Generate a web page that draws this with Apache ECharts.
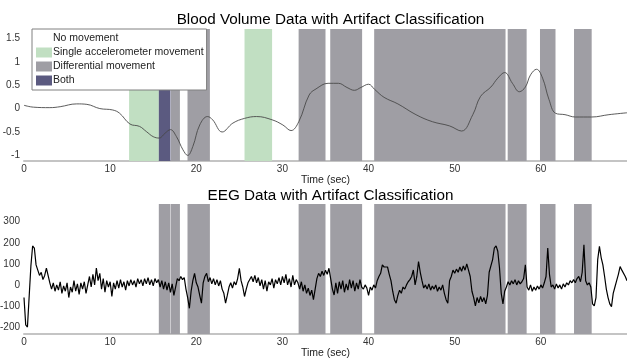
<!DOCTYPE html>
<html>
<head>
<meta charset="utf-8">
<script src="https://cdn.jsdelivr.net/npm/echarts@6/dist/echarts.min.js"></script>
<style>
html, body { margin: 0; padding: 0; background: #fff; }
#main { width: 627px; height: 358px; }
</style>
</head>
<body>
<div id="main"></div>
<script>
/* blood volume + EEG with artifact bands */

// artifact intervals, seconds [start, end]
var singleMove = [[12.2, 15.65], [25.6, 28.8]];
var bothMove = [[15.65, 17.0]];
var diffMove = [[17.05, 18.1], [18.98, 21.58], [31.88, 35.0], [35.55, 39.25],
                [40.65, 55.9], [56.15, 58.35], [59.9, 61.7], [63.85, 65.9]];

// blood volume trace: [sec, value]
var bloodVolume = [
    [0, 0.07], [1.1, 0.03], [3.0, 0.02], [4.2, 0.04], [6.1, 0.1], [7.3, 0.09],
    [8.8, 0.0], [10.3, -0.03], [11.1, -0.1], [12.3, -0.33], [13.4, -0.38],
    [14.2, -0.49], [15.0, -0.6], [15.7, -0.63], [16.35, -0.53], [17.0, -0.45],
    [17.7, -0.6], [18.45, -0.88], [19.0, -1.0], [19.6, -0.81], [20.4, -0.35],
    [21.3, -0.17], [21.9, -0.24], [23.0, -0.5], [24.25, -0.31], [25.6, -0.21],
    [27.0, -0.17], [28.8, -0.24], [30.05, -0.35], [31.0, -0.47], [31.9, -0.28],
    [33.1, 0.29], [33.9, 0.42], [35.3, 0.54], [36.5, 0.54], [37.5, 0.45],
    [38.35, 0.39], [39.1, 0.45], [40.0, 0.52], [40.7, 0.41], [41.8, 0.24],
    [43.4, 0.1], [45.5, -0.13], [47.4, -0.28], [49.4, -0.37], [50.8, -0.48],
    [52.1, -0.13], [53.0, 0.26], [54.2, 0.46], [55.0, 0.65], [55.8, 0.77],
    [56.7, 0.54], [57.5, 0.36], [58.2, 0.46], [58.8, 0.72], [59.5, 0.84],
    [60.2, 0.65], [60.95, 0.19], [61.7, -0.1], [62.8, -0.13], [64.0, -0.18],
    [65.9, -0.18], [67.9, -0.13], [70.0, -0.09]
];

// EEG samples every 0.2 s, one row = 2 s
var eegStep = 0.2;
var eegValues = [
    -60, -190, -200, -205, 90, 185, 175, 95, 70, 45,
    60, 25, 45, 80, 85, 10, -20, 10, -30, 0,
    -25, 15, -40, -5, -30, 10, -60, -10, -35, 20,
    -30, 5, -45, 10, -20, 15, -40, 0, 40, -10,
    50, 0, 80, 20, 55, -20, 30, -35, 20, -10,
    15, -55, 10, -20, 20, -15, 25, -10, 15, -25,
    20, -5, 25, 0, 20, -10, 30, 5, 25, -5,
    30, 5, 35, 0, 25, -5, 30, 10, 25, -10,
    20, -20, 15, -25, 10, -35, 5, -50, -10, 30,
    20, 40, 25, 35, -20, -60, -111, -30, 20, 55,
    10, -10, -50, -87, 10, 40, 55, 15, 35, 5,
    30, 0, 25, -5, 20, -20, -40, -87, -50, -10,
    10, -15, 15, 0, 30, 79, 20, -10, -55, -20,
    10, 5, 40, 15, 45, 10, 35, -5, 25, -20,
    20, -30, 15, 0, 30, -15, 25, 5, 35, 0,
    40, 10, 50, 0, 30, -10, 45, 0, 25, 10,
    -20, 15, -30, 0, -40, -15, -50, -25, -70, -20,
    30, 55, 40, 65, 45, 70, 50, 79, 30, -20,
    -48, 10, -40, 15, -20, 20, -35, 5, -25, 25,
    -15, 20, -30, 10, -20, 25, -10, -20, 0, -15,
    -50, -10, -25, 0, -15, 20, 40, 55, 95, 85,
    90, 85, 50, 20, -30, -70, -87, -50, -25, -40,
    -10, -20, 0, 15, 25, 40, 71, 0, 40, 111,
    60, 20, -15, 0, -20, 5, -25, -5, -20, 0,
    -30, -10, -25, 0, -40, -70, -87, 20, 40, 70,
    55, 75, 60, 85, 65, 90, 70, 100, 70, 40,
    -30, -60, -100, -60, -85, -55, -80, -60, -90, -50,
    60, 90, 120, 175, 185, 160, 80, -40, -90, -30,
    -10, 15, 0, 20, 5, 25, 0, 20, 5, 15,
    30, 95, -10, -25, 0, -30, -10, -25, -5, -20,
    0, -15, 10, 40, 175, 50, -10, 0, -20, 5,
    -15, 0, -20, 5, -10, 10, 0, 20, 10, 25,
    10, 30, 40, 15, 60, 190, 20, 0, 10, -10,
    -90, -100, -60, 120, 183, 130, 95, 40, -20, -60,
    -90, -103, -40, -10, 20, 50, 87, 70, 63, 40,
    20
];

var bvTicks = [-1, -0.5, 0, 0.5, 1, 1.5];
var eegTicks = [-200, -100, 0, 100, 200, 300];
var legendNames = ['No movement', 'Single accelerometer movement', 'Differential movement', 'Both'];

var font = '"Liberation Sans", Arial, sans-serif';
var colSingle = '#c1dfc2';
var colDiff = '#9f9ea4';
var colBoth = '#5b5a80';

var eegData = eegValues.map(function (v, i) { return [i * eegStep, v]; });

function bands(list) {
    return list.map(function (b) { return [{ xAxis: b[0] }, { xAxis: b[1] }]; });
}

function bandSeries(name, list, color, idx) {
    return {
        name: name,
        type: 'line',
        xAxisIndex: idx,
        yAxisIndex: idx,
        data: [],
        itemStyle: { color: color },
        lineStyle: { color: color },
        markArea: {
            silent: true,
            itemStyle: { color: color, opacity: 1 },
            data: bands(list)
        }
    };
}

function xAxisFor(idx) {
    return {
        type: 'value',
        gridIndex: idx,
        min: 0,
        max: 70,
        interval: 10,
        name: 'Time (sec)',
        nameLocation: 'middle',
        nameGap: 10,
        nameTextStyle: { fontFamily: font, fontSize: 10.5, color: '#222' },
        axisLine: { show: true, onZero: false, lineStyle: { color: '#c4c4c4', width: 2 } },
        axisTick: { show: false },
        splitLine: { show: false },
        axisLabel: { fontFamily: font, fontSize: 10, color: '#333', margin: 3, showMaxLabel: false }
    };
}

function yAxisFor(idx, min, max, ticks) {
    return {
        type: 'value',
        gridIndex: idx,
        min: min,
        max: max,
        axisLine: { show: false },
        axisTick: { show: false },
        splitLine: { show: false },
        axisLabel: { fontFamily: font, fontSize: 10, color: '#333', margin: 4, customValues: ticks }
    };
}

var dom = document.getElementById('main');
var myChart = echarts.init(dom, null, { renderer: 'canvas' });

var option = {
    animation: false,
    backgroundColor: '#fff',
    title: [{
        text: 'Blood Volume Data with Artifact Classification',
        left: 325.5, top: 7, textAlign: 'center',
        textStyle: { fontFamily: font, fontSize: 15.25, fontWeight: 'normal', color: '#000' }
    }, {
        text: 'EEG Data with Artifact Classification',
        left: 325.5, top: 183, textAlign: 'center',
        textStyle: { fontFamily: font, fontSize: 15.25, fontWeight: 'normal', color: '#000' }
    }],
    legend: {
        data: legendNames,
        orient: 'vertical',
        left: 32,
        top: 29,
        icon: 'rect',
        itemWidth: 16,
        itemHeight: 10,
        itemGap: 3,
        padding: [4, 3, 4, 4],
        backgroundColor: '#fff',
        borderColor: '#808080',
        borderWidth: 1,
        selectedMode: false,
        z: 10,
        itemStyle: { borderWidth: 0 },
        textStyle: { fontFamily: font, fontSize: 10.5, color: '#222', padding: [0, 0, 0, -4] }
    },
    grid: [
        { left: 24, right: 0, top: 29, height: 132, containLabel: false, outerBoundsMode: 'none' },
        { left: 24, right: 0, top: 204, height: 130, containLabel: false, outerBoundsMode: 'none' }
    ],
    xAxis: [xAxisFor(0), xAxisFor(1)],
    yAxis: [yAxisFor(0, -1.12, 1.70, bvTicks), yAxisFor(1, -233, 384, eegTicks)],
    series: [
        bandSeries('No movement', [], '#ffffff', 0),
        bandSeries('Single accelerometer movement', singleMove, colSingle, 0),
        bandSeries('Differential movement', diffMove, colDiff, 0),
        bandSeries('Both', bothMove, colBoth, 0),
        bandSeries('EEG artifacts', bothMove.concat(diffMove), colDiff, 1),
        {
            name: 'Blood volume',
            type: 'line',
            xAxisIndex: 0,
            yAxisIndex: 0,
            z: 5,
            data: bloodVolume,
            smooth: 0.4,
            showSymbol: false,
            lineStyle: { color: '#4a4a4a', width: 0.9 }
        },
        {
            name: 'EEG',
            type: 'line',
            xAxisIndex: 1,
            yAxisIndex: 1,
            z: 5,
            data: eegData,
            showSymbol: false,
            sampling: null,
            lineStyle: { color: '#000', width: 1.2 }
        }
    ]
};

myChart.setOption(option);
</script>
</body>
</html>
